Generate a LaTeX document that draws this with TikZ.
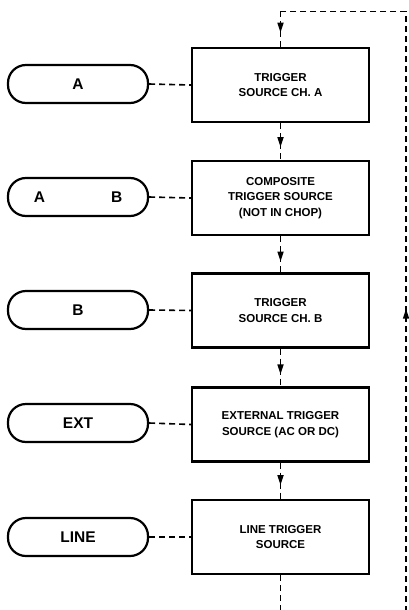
\documentclass[tikz,border=0pt]{standalone}
\usepackage{fontspec}
\setmainfont{Liberation Sans}
\usetikzlibrary{arrows.meta,decorations.markings}
\begin{document}
\begin{tikzpicture}[x=1pt,y=-1pt,
  stagebox/.style={draw,line width=2.2pt,minimum width=177pt,minimum height=74pt,
    inner sep=0pt,align=center,font=\bfseries\fontsize{11.5}{15.5}\selectfont},
  pill/.style={draw,line width=2.2pt,minimum width=140pt,minimum height=38pt,
    rounded corners=18pt,inner sep=0pt,font=\bfseries\fontsize{15.5}{18}\selectfont},
  dashline/.style={line width=1.6pt,dash pattern=on 6pt off 4pt},
  tipmark/.style={postaction={decorate},decoration={markings,
    mark=at position #1 with {\arrow[solid]{Triangle[length=10pt,width=6pt]}}}}
]
\useasboundingbox (0,0) rectangle (408,610);
% boxes
\node[stagebox] (b1) at (280.5,85) {TRIGGER\\SOURCE CH. A};
\node[stagebox] (b2) at (280.5,198) {COMPOSITE\\TRIGGER SOURCE\\(NOT IN CHOP)};
\node[stagebox] (b3) at (280.5,310.5) {TRIGGER\\SOURCE CH. B};
\node[stagebox] (b4) at (280.5,424.5) {EXTERNAL TRIGGER\\SOURCE (AC OR DC)};
\node[stagebox] (b5) at (280.5,537) {LINE TRIGGER\\SOURCE};
% pills
\node[pill] (p1) at (78,84) {A};
\node[pill] (p2) at (78,197) {A\hspace{66pt}B};
\node[pill] (p3) at (78,310) {B};
\node[pill] (p4) at (78,423) {EXT};
\node[pill] (p5) at (78,537) {LINE};
% pill connectors
\foreach \i in {1,...,5} \draw[dashline] (p\i.east) -- (b\i.west);
% chain connectors
\draw[dashline,tipmark=0.65] (b1.south) -- (b2.north);
\draw[dashline,tipmark=0.7] (b2.south) -- (b3.north);
\draw[dashline,tipmark=0.68] (b3.south) -- (b4.north);
\draw[dashline,tipmark=0.62] (b4.south) -- (b5.north);
% loop
\coordinate (bot) at (280.5,612);
\coordinate (rbot) at (406,612);
\coordinate (rtop) at (406,11.5);
\coordinate (ltop) at (280.5,11.5);
\draw[dashline] (b5.south) -- (bot);
\draw[dashline,tipmark=0.505] (rbot) -- (rtop);
\draw[dashline] (rtop) -- (ltop);
\draw[dashline,tipmark=0.6] (ltop) -- (b1.north);
\end{tikzpicture}
\end{document}
